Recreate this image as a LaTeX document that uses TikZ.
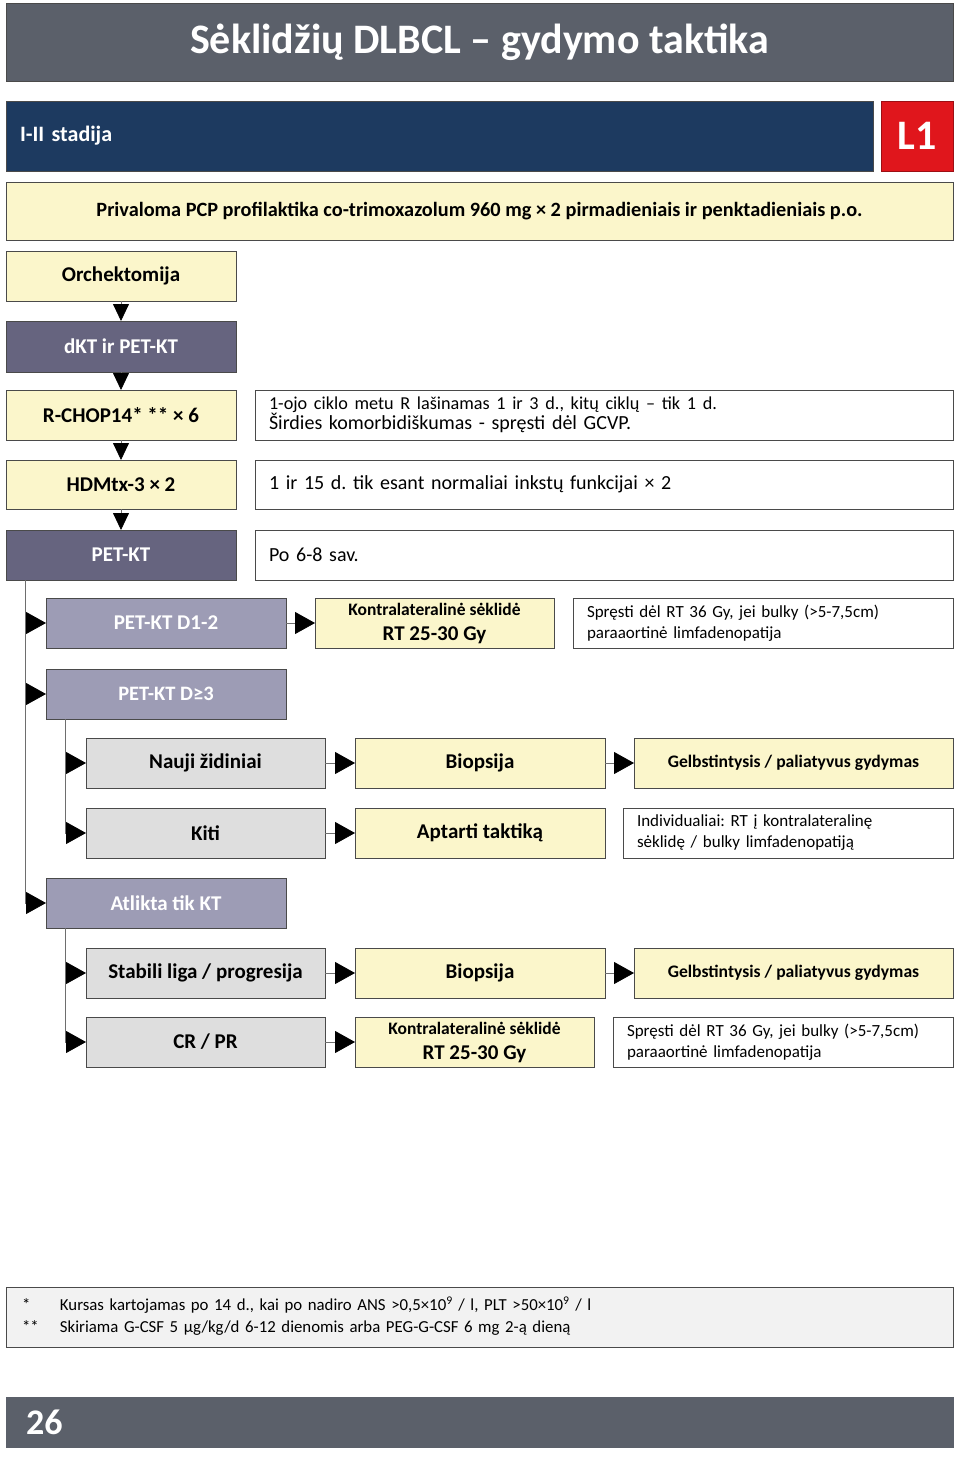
\documentclass[tikz,border=0pt]{standalone}
\usepackage{fontspec}
\setmainfont{Carlito}
\usetikzlibrary{arrows.meta}
\frenchspacing

\definecolor{barGrey}{HTML}{5B606A}
\definecolor{stageBlue}{HTML}{1D3A60}
\definecolor{tagRed}{HTML}{E0161C}
\definecolor{paleYellow}{HTML}{FBF6CB}
\definecolor{darkViolet}{HTML}{66647F}
\definecolor{lightViolet}{HTML}{9D9CB5}
\definecolor{paleGrey}{HTML}{DEDEDE}
\definecolor{noteGrey}{HTML}{F2F2F2}
\definecolor{edgeGrey}{HTML}{4A4A4A}
\definecolor{lineGrey}{HTML}{6E6E6E}

\begin{document}
\begin{tikzpicture}[
    x=1pt,
    y=-1pt,
    every node/.style={
        inner sep=0pt,
        outer sep=0pt
    },
    box/.style={
        draw=edgeGrey,
        line width=0.9pt,
        anchor=north west,
        minimum height=50pt,
        align=center,
        font=\bfseries\fontsize{21}{24}\selectfont
    },
    yellowbox/.style={box, fill=paleYellow},
    darkbox/.style={box, fill=darkViolet, text=white},
    lightbox/.style={box, fill=lightViolet, text=white},
    greybox/.style={box, fill=paleGrey},
    notebox/.style={
        box,
        fill=white,
        align=left,
        inner xsep=14pt,
        font=\fontsize{20}{20}\selectfont
    },
    smallnote/.style={notebox, font=\fontsize{17}{21}\selectfont},
    arr/.style={
        draw=lineGrey,
        line width=0.8pt,
        -{Triangle[length=17pt,width=16pt,color=black]}
    },
    sidearr/.style={
        arr,
        -{Triangle[length=20pt,width=22pt,color=black]}
    },
    trunk/.style={
        draw=lineGrey,
        line width=0.8pt
    }
]

\useasboundingbox (0,0) rectangle (960,1459);

% =================================================
% Antraštė
% =================================================

\node[box, fill=barGrey, text=white, minimum width=947pt, minimum height=78pt,
    font=\bfseries\fontsize{42}{46}\selectfont] (title) at (6,3)
    {Sėklidžių DLBCL – gydymo taktika};

\node[box, fill=stageBlue, text=white, minimum height=70pt, align=left,
    text width=839pt, inner xsep=14pt,
    font=\bfseries\fontsize{22}{26}\selectfont] (stage) at (6,101)
    {I-II stadija};

\node[box, draw=tagRed!70!black, fill=tagRed, text=white, minimum width=72pt,
    minimum height=70pt, font=\bfseries\fontsize{42}{46}\selectfont] (tag) at (881,101)
    {L1};

\node[yellowbox, minimum width=947pt, minimum height=58pt,
    font=\bfseries\fontsize{20.3}{23}\selectfont] (pcp) at (6,182)
    {Privaloma PCP profilaktika co-trimoxazolum 960 mg × 2 pirmadieniais ir penktadieniais p.o.};

% =================================================
% Pagrindinė seka
% =================================================

\node[yellowbox, minimum width=230pt] (orch) at (6,251) {Orchektomija};
\node[darkbox, minimum width=230pt, minimum height=51pt] (dkt) at (6,321) {dKT ir PET-KT};
\node[yellowbox, minimum width=230pt] (rchop) at (6,390) {R-CHOP14* ** × 6};
\node[yellowbox, minimum width=230pt, minimum height=49pt] (hdm) at (6,460) {HDMtx-3 × 2};
\node[darkbox, minimum width=230pt] (petkt) at (6,530) {PET-KT};

% Pastabos
\node[notebox, text width=670pt] (rchopNote) at (255,390)
    {{\fontsize{18.2}{20}\selectfont 1-ojo ciklo metu R lašinamas 1 ir 3 d., kitų ciklų – tik 1 d.}\\
     Širdies komorbidiškumas - spręsti dėl GCVP.};
\node[notebox, text width=670pt, minimum height=49pt] (hdmNote) at (255,460)
    {1 ir 15 d. tik esant normaliai inkstų funkcijai × 2};
\node[notebox, text width=670pt] (petNote) at (255,530)
    {Po 6-8 sav.};

\draw[arr] (orch) -- (dkt);
\draw[arr] (dkt) -- (rchop);
\draw[arr] (rchop) -- (hdm);
\draw[arr] (hdm) -- (petkt);

% =================================================
% PET-KT rezultatai
% =================================================

\node[lightbox, minimum width=240pt] (d12) at (46,598) {PET-KT D1-2};
\node[yellowbox, minimum width=239pt] (contraA) at (315,598)
    {{\fontsize{17.5}{20}\selectfont Kontralateralinė sėklidė}\\[1pt] RT 25-30 Gy};
\node[smallnote, text width=352pt] (contraANote) at (573,598)
    {Spręsti dėl RT 36 Gy, jei bulky (>5-7,5cm)\\ paraaortinė limfadenopatija};

\node[lightbox, minimum width=240pt, font=\bfseries\fontsize{20.5}{24}\selectfont] (d3) at (46,669)
    {PET-KT D≥3};

\node[greybox, minimum width=239pt] (newSites) at (86,738) {Nauji židiniai};
\node[yellowbox, minimum width=250pt] (biopA) at (355,738) {Biopsija};
\node[yellowbox, minimum width=319pt, font=\bfseries\fontsize{17.6}{20}\selectfont] (salvA) at (634,738)
    {Gelbstintysis / paliatyvus gydymas};

\node[greybox, minimum width=239pt] (other) at (86,808) {Kiti};
\node[yellowbox, minimum width=250pt] (discuss) at (355,808) {Aptarti taktiką};
\node[smallnote, text width=302pt] (indiv) at (623,808)
    {Individualiai: RT į kontralateralinę\\ sėklidę / bulky limfadenopatiją};

\node[lightbox, minimum width=240pt] (ctOnly) at (46,878) {Atlikta tik KT};

\node[greybox, minimum width=239pt] (stable) at (86,948) {Stabili liga / progresija};
\node[yellowbox, minimum width=250pt] (biopB) at (355,948) {Biopsija};
\node[yellowbox, minimum width=319pt, font=\bfseries\fontsize{17.6}{20}\selectfont] (salvB) at (634,948)
    {Gelbstintysis / paliatyvus gydymas};

\node[greybox, minimum width=239pt] (crpr) at (86,1017) {CR / PR};
\node[yellowbox, minimum width=239pt] (contraB) at (355,1017)
    {{\fontsize{17.5}{20}\selectfont Kontralateralinė sėklidė}\\[1pt] RT 25-30 Gy};
\node[smallnote, text width=312pt] (contraBNote) at (613,1017)
    {Spręsti dėl RT 36 Gy, jei bulky (>5-7,5cm)\\ paraaortinė limfadenopatija};

% Kamienai
\coordinate (mainTop) at (25,580);
\coordinate (mainEnd) at (25,903);
\coordinate (subTopA) at (65,719);
\coordinate (subEndA) at (65,833);
\coordinate (subTopB) at (65,928);
\coordinate (subEndB) at (65,1043);

\draw[trunk] (mainTop) -- (mainEnd);
\draw[trunk] (subTopA) -- (subEndA);
\draw[trunk] (subTopB) -- (subEndB);

\draw[sidearr] (d12.west -| mainTop) -- (d12.west);
\draw[sidearr] (d3.west -| mainTop) -- (d3.west);
\draw[sidearr] (ctOnly.west -| mainTop) -- (ctOnly.west);

\draw[sidearr] (newSites.west -| subTopA) -- (newSites.west);
\draw[sidearr] (other.west -| subTopA) -- (other.west);
\draw[sidearr] (stable.west -| subTopB) -- (stable.west);
\draw[sidearr] (crpr.west -| subTopB) -- (crpr.west);

\draw[sidearr] (d12) -- (contraA);
\draw[sidearr] (newSites) -- (biopA);
\draw[sidearr] (biopA) -- (salvA);
\draw[sidearr] (other) -- (discuss);
\draw[sidearr] (stable) -- (biopB);
\draw[sidearr] (biopB) -- (salvB);
\draw[sidearr] (crpr) -- (contraB);

% =================================================
% Išnašos ir puslapis
% =================================================

\node[box, fill=noteGrey, minimum height=60pt, align=left, text width=915pt,
    inner xsep=16pt, font=\fontsize{16.8}{21.5}\selectfont] (foot) at (6,1287)
    {\begin{tabular}{@{}p{38pt}@{}l@{}}
     {*} & Kursas kartojamas po 14 d., kai po nadiro ANS >0,5×10\textsuperscript{9} / l, PLT >50×10\textsuperscript{9} / l\\
     {**} & Skiriama G-CSF 5 µg/kg/d 6-12 dienomis arba PEG-G-CSF 6 mg 2-ą dieną
     \end{tabular}};

\node[box, draw=barGrey, fill=barGrey, text=white, minimum height=50pt, align=left,
    text width=907pt, inner xsep=20pt,
    font=\bfseries\fontsize{36}{40}\selectfont] (page) at (6,1397) {26};

\end{tikzpicture}
\end{document}
